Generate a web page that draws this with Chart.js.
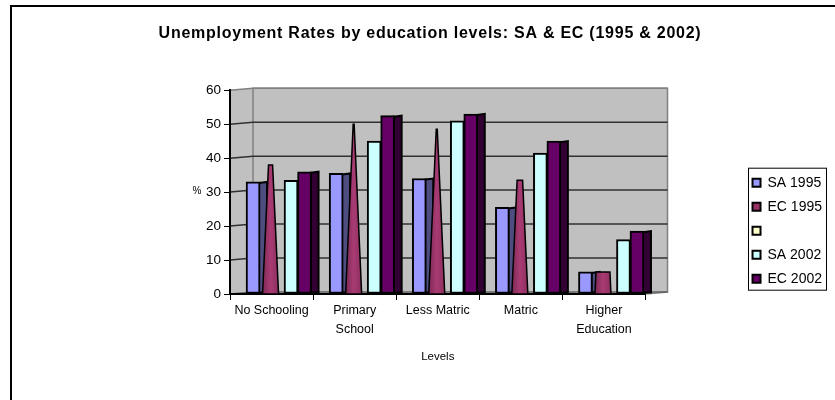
<!DOCTYPE html>
<html>
<head>
<meta charset="utf-8">
<title>Unemployment Rates</title>
<script src="https://cdn.jsdelivr.net/npm/chart.js@4"></script>
<style>
  html, body { margin: 0; width: 835px; height: 400px; overflow: hidden; background: #fff; }
  #frame { position: absolute; left: 10px; top: 5px; width: 838px; height: 418px; border: 2px solid #000; }
  canvas { display: block; }
</style>
</head>
<body>
<div id="frame"><canvas id="chart" width="838" height="418"></canvas></div>
<script>
const chartTitle = "Unemployment Rates by education levels: SA & EC (1995 & 2002)";
const categories = ["No Schooling", ["Primary", "School"], "Less Matric", "Matric", ["Higher", "Education"]];
const yTicks = [0, 10, 20, 30, 40, 50, 60];
const sa1995 = [33, 35.5, 34, 25.5, 6.5];
const ec1995 = [38, 50, 48.5, 33.5, 6.5];
const blank = [null, null, null, null, null];
const sa2002 = [33.5, 45, 51, 41.5, 16];
const ec2002 = [36, 52.5, 53, 45, 18.5];

const font = "'Liberation Sans', Arial, sans-serif";
const depthX = 23, depthY = 2;   // back wall offset
const barDepth = 8;
const coneApex = 51;             // value where the cones run out

const mk = (label, data, color, side, shift, thickness) => ({
  label, data, backgroundColor: color, side, shift,
  barThickness: thickness, borderColor: "#000", borderWidth: 2, borderSkipped: false, grouped: false
});

const threeD = {
  id: "threeD",
  beforeDraw(chart) {
    // title letters sit wider apart in the original, and it is centred on the full frame
    const tb = chart.titleBlock;
    if (!tb._spaced) {
      const draw = tb.draw.bind(tb);
      tb.draw = () => {
        chart.ctx.save();
        chart.ctx.letterSpacing = "0.75px";
        chart.ctx.translate(8, 0);
        draw();
        chart.ctx.restore();
      };
      tb._spaced = true;
    }
    // walls and grid lines, worked out from the y scale
    const { ctx, chartArea: a, scales: { y } } = chart;
    ctx.save();
    ctx.fillStyle = "#C0C0C0";
    ctx.beginPath();
    ctx.moveTo(a.left, a.top);
    ctx.lineTo(a.left + depthX, a.top - depthY);
    ctx.lineTo(a.right + depthX - 1, a.top - depthY);
    ctx.lineTo(a.right + depthX - 1, a.bottom - depthY);
    ctx.lineTo(a.right, a.bottom);
    ctx.lineTo(a.left, a.bottom);
    ctx.closePath();
    ctx.fill();
    ctx.strokeStyle = "#808080";
    ctx.lineWidth = 1.5;
    ctx.beginPath();
    ctx.moveTo(a.left + depthX, a.bottom - depthY);
    ctx.lineTo(a.left + depthX, a.top - depthY);
    ctx.lineTo(a.right + depthX - 1, a.top - depthY);
    ctx.lineTo(a.right + depthX - 1, a.bottom - depthY);
    ctx.lineTo(a.right, a.bottom);
    ctx.stroke();
    yTicks.forEach(v => {
      const p = y.getPixelForValue(v);
      ctx.strokeStyle = v === 60 ? "#808080" : (v === 0 ? "#606060" : "#303030");
      ctx.beginPath();
      ctx.moveTo(a.left, p);
      ctx.lineTo(a.left + depthX, p - depthY);
      ctx.lineTo(a.right + depthX - 1, p - depthY);
      ctx.stroke();
    });
    ctx.restore();
  },
  afterDatasetsUpdate(chart) {
    chart.data.datasets.forEach((ds, i) => {
      chart.getDatasetMeta(i).data.forEach(el => { el.x += ds.shift; });
    });
  },
  beforeDatasetsDraw(chart) {
    const { ctx } = chart;
    ctx.save();
    chart.data.datasets.forEach((ds, i) => {
      if (!ds.side) return;
      chart.getDatasetMeta(i).data.forEach(el => {
        if (el.skip || el.y == null || isNaN(el.y)) return;
        const r = el.x + el.width / 2 - 1;
        ctx.fillStyle = ds.side;
        ctx.strokeStyle = "#000";
        ctx.lineWidth = 2;
        ctx.beginPath();
        ctx.moveTo(r, el.y + 1);
        ctx.lineTo(r + barDepth, el.y);
        ctx.lineTo(r + barDepth, el.base - 1);
        ctx.lineTo(r, el.base - 1);
        ctx.closePath();
        ctx.fill();
        ctx.stroke();
      });
    });
    ctx.restore();
  },
  beforeDatasetDraw(chart, args) {
    return !chart.data.datasets[args.index].cone;
  },
  afterDatasetsDraw(chart) {
    const { ctx, scales: { y } } = chart;
    ctx.save();
    chart.data.datasets.forEach((ds, i) => {
      if (!ds.cone) return;
      chart.getDatasetMeta(i).data.forEach((el, k) => {
        const half = el.width / 2;
        const topHalf = Math.max(0.5, half * (1 - ds.data[k] / coneApex));
        const g = ctx.createLinearGradient(el.x - half, 0, el.x + half, 0);
        g.addColorStop(0, "#7f2a55");
        g.addColorStop(0.5, "#a83b73");
        g.addColorStop(1, "#8d2f5f");
        ctx.fillStyle = g;
        ctx.strokeStyle = "#000";
        ctx.lineWidth = 1.5;
        ctx.lineJoin = "miter";
        ctx.beginPath();
        ctx.moveTo(el.x - half, y.getPixelForValue(0));
        ctx.lineTo(el.x - topHalf, el.y);
        ctx.lineTo(el.x + topHalf, el.y);
        ctx.lineTo(el.x + half, y.getPixelForValue(0));
        ctx.closePath();
        ctx.fill();
        ctx.stroke();
      });
    });
    ctx.restore();
  },
  afterDraw(chart) {
    const { ctx, legend, chartArea: a } = chart;
    ctx.save();
    // "%" stays upright, unlike a Chart.js axis title
    ctx.fillStyle = "#000";
    ctx.font = "10px " + font;
    ctx.textAlign = "center";
    ctx.textBaseline = "middle";
    ctx.fillText("%", a.left - 33, (a.top + a.bottom) / 2 - 1);
    // legend box
    const boxes = legend.legendHitBoxes;
    const top = boxes[0].top - 8, bottom = boxes[boxes.length - 1].top + boxes[0].height + 4;
    ctx.strokeStyle = "#000";
    ctx.lineWidth = 1;
    ctx.strokeRect(736.5, top + 0.5, 78, bottom - top);
    ctx.restore();
  }
};

const cone = mk("EC 1995", ec1995, "#993366", null, -1, 16);
cone.cone = true;

new Chart(document.getElementById("chart"), {
  type: "bar",
  data: {
    labels: categories,
    datasets: [
      mk("SA 1995", sa1995, "#9999FF", "#4D4D80", -18.5, 14),
      cone,
      mk(" ", blank, "#FFFFCC", null, 0, 14),
      mk("SA 2002", sa2002, "#CCFFFF", null, 19.5, 14),
      mk("EC 2002", ec2002, "#660066", "#330033", 33, 14)
    ]
  },
  plugins: [threeD],
  options: {
    responsive: false,
    animation: false,
    layout: { padding: { left: 0, right: 18, top: 0, bottom: 61 } },
    plugins: {
      title: {
        display: true, text: chartTitle, color: "#000",
        font: { family: font, size: 16, weight: "bold" },
        padding: { top: 17, bottom: 47 }
      },
      legend: {
        position: "right",
        // the empty legend title only pushes the items down
        title: { display: true, text: " ", padding: 38 },
        labels: {
          boxWidth: 8, boxHeight: 8, padding: 10, color: "#000",
          font: { family: font, size: 14 }
        }
      },
      tooltip: { enabled: false }
    },
    scales: {
      x: {
        afterFit(s) { s.height = 70; },
        grid: { drawOnChartArea: false, color: "#000", tickLength: 6 },
        border: { color: "#000", width: 2 },
        ticks: { color: "#000", maxRotation: 0, autoSkip: false, font: { family: font, size: 12.5, lineHeight: 1.5 }, padding: 1 },
        title: { display: true, text: "Levels", color: "#000", font: { family: font, size: 11.5 }, padding: { top: 12, bottom: 0 } }
      },
      y: {
        min: 0, max: 60,
        afterFit(s) { s.width = 218; },
        grid: { drawOnChartArea: false, color: "#000", tickLength: 6 },
        border: { color: "#000", width: 2 },
        ticks: { color: "#000", stepSize: 10, font: { family: font, size: 13.5 }, padding: 3 }
      },
      // empty axis: keeps the gap between the plot and the legend
      gap: {
        position: "right",
        afterFit(s) { s.width = 97; },
        grid: { display: false },
        border: { display: false },
        ticks: { display: false }
      }
    }
  }
});
</script>
</body>
</html>
